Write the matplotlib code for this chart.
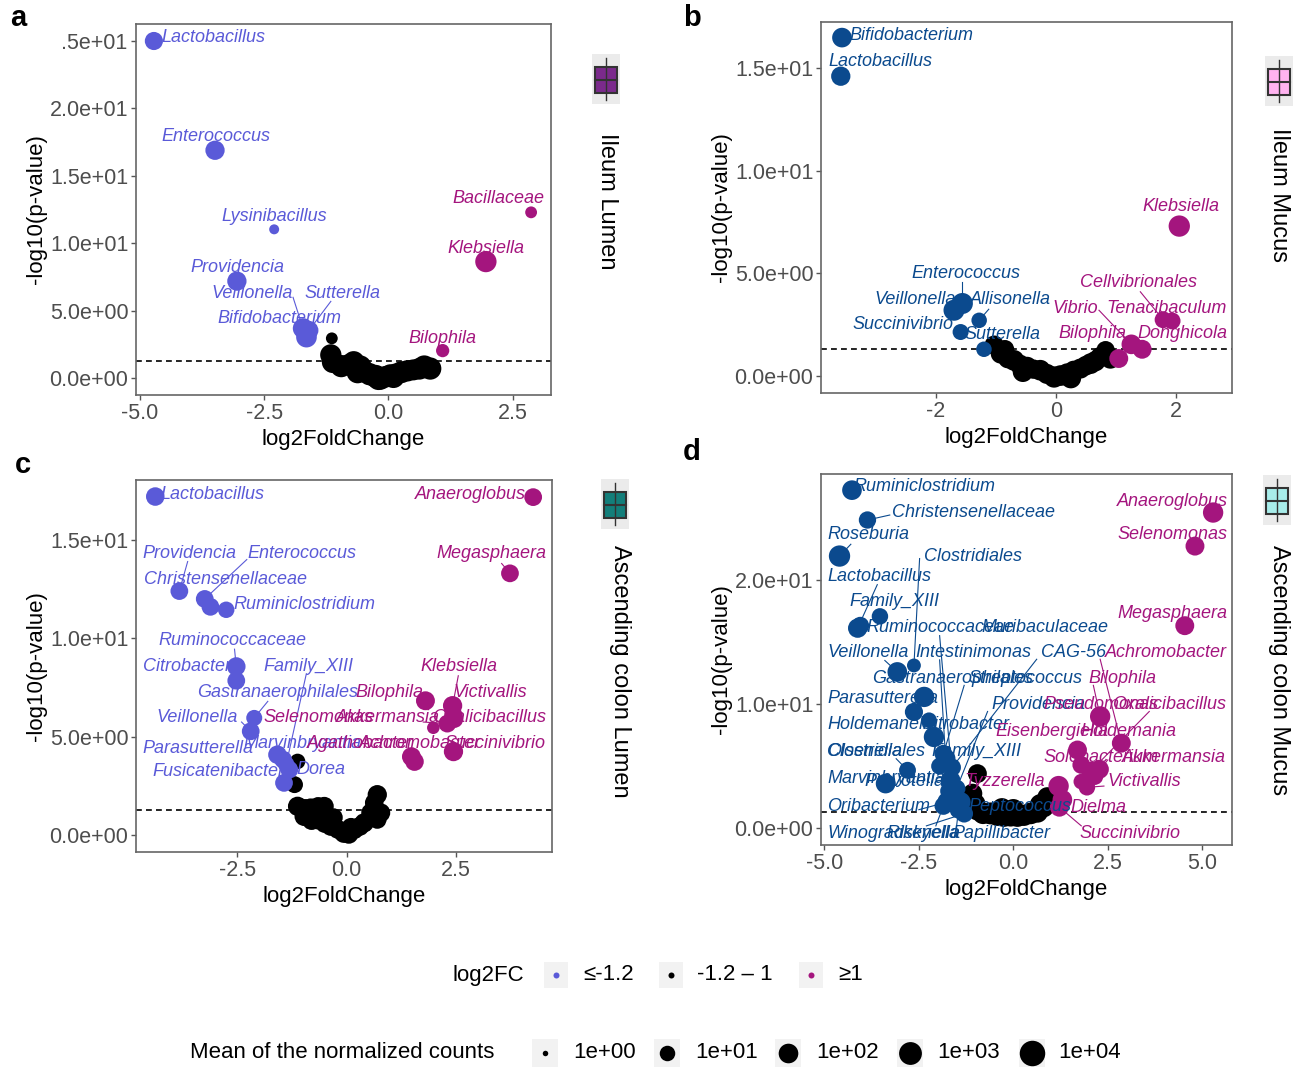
import numpy as np
import matplotlib
matplotlib.use('Agg')
import matplotlib.pyplot as plt
from matplotlib.patches import Rectangle
from matplotlib.ticker import FuncFormatter

W, H = 1305, 1067
plt.rcParams['font.family'] = ['Liberation Sans', 'DejaVu Sans']

BLUE_AC = '#5A5AD8'
BLUE_BD = '#0B4A8E'
MAG = '#A4157E'

# ---------------- data: panel a (Ileum Lumen) ----------------
a_names = ['Lactobacillus', 'Enterococcus', 'Lysinibacillus', 'Providencia', 'Veillonella',
           'Sutterella', 'Bifidobacterium', 'Bacillaceae', 'Klebsiella', 'Bilophila']
a_lfc = [-4.72, -3.49, -2.30, -3.05, -1.72, -1.60, -1.65, 2.87, 1.96, 1.09]
a_logp = [25.0, 16.9, 11.04, 7.2, 3.7, 3.55, 3.05, 12.3, 8.65, 2.05]
a_lmean = [1.6, 1.9, 0.2, 1.9, 2.2, 1.8, 2.3, 0.4, 2.5, 0.6]
a_bg_lfc = [-1.14, -1.16, -1.12, -0.95, -0.80, -0.70, -0.57, -0.49, -0.38, -0.26, -0.16, -0.05,
            0.04, 0.15, 0.26, 0.38, 0.50, 0.62, 0.72, 0.84, -0.62, -0.20, 0.10]
a_bg_logp = [2.96, 1.73, 1.2, 0.9, 1.0, 1.2, 0.85, 0.5, 0.3, 0.15, 0.0, 0.12,
             0.25, 0.3, 0.45, 0.55, 0.62, 0.7, 0.85, 0.72, 0.45, -0.05, 0.1]
a_bg_lmean = [0.4, 2.5, 2.7, 2.8, 2.5, 2.7, 3.0, 2.7, 2.8, 3.0, 3.0, 2.6,
              2.5, 2.6, 2.7, 2.5, 2.4, 2.6, 3.0, 2.8, 2.8, 2.8, 2.8]

# ---------------- data: panel b (Ileum Mucus) ----------------
b_names = ['Bifidobacterium', 'Lactobacillus', 'Klebsiella', 'Enterococcus', 'Veillonella',
           'Allisonella', 'Succinivibrio', 'Sutterella', 'Cellvibrionales', 'Tenacibaculum',
           'Vibrio', 'Bilophila', 'Donghicola']
b_lfc = [-3.57, -3.59, 2.06, -1.56, -1.70, -1.28, -1.59, -1.20, 1.79, 1.94, 1.26, 1.05, 1.44]
b_logp = [16.48, 14.6, 7.3, 3.53, 3.2, 2.71, 2.14, 1.3, 2.74, 2.68, 1.54, 0.85, 1.3]
b_lmean = [2.0, 1.9, 2.5, 2.4, 2.4, 1.0, 1.1, 1.0, 1.3, 1.3, 2.0, 1.8, 1.8]
b_bg_lfc = [-1.03, -0.92, -0.85, -0.80, -0.70, -0.60, -0.55, -0.48, -0.37, -0.26, -0.15, -0.03,
            0.08, 0.19, 0.25, 0.30, 0.41, 0.50, 0.58, 0.66, 0.74, 0.83, 0.91]
b_bg_logp = [1.5, 1.09, 1.3, 0.85, 0.76, 0.55, 0.2, 0.44, 0.33, 0.28, 0.1, -0.05,
             0.02, 0.12, -0.1, 0.25, 0.36, 0.5, 0.6, 0.72, 0.93, 1.25, 0.85]
b_bg_lmean = [1.9, 2.1, 1.7, 2.0, 2.3, 2.1, 2.2, 2.2, 1.9, 2.3, 2.1, 2.5,
              2.3, 2.2, 2.3, 2.2, 2.1, 2.0, 2.3, 2.2, 2.0, 1.7, 2.2]

# ---------------- data: panel c (Ascending colon Lumen) ----------------
c_names = ['Lactobacillus', 'Providencia', 'Enterococcus', 'Christensenellaceae', 'Ruminiclostridium',
           'Ruminococcaceae', 'Citrobacter', 'Gastranaerophilales', 'Veillonella', 'Parasutterella',
           'Marvinbryantia', 'Family_XIII', 'Dorea', 'Fusicatenibacter', 'Anaeroglobus',
           'Megasphaera', 'Bilophila', 'Klebsiella', 'Victivallis', 'Selenomonas',
           'Akkermansia', 'Oxalicibacillus', 'Achromobacter', 'Agathobacter', 'Succinivibrio']
c_lfc = [-4.37, -3.82, -3.24, -3.11, -2.75, -2.52, -2.52, -2.11, -2.19, -1.58, -1.45, -1.38, -1.31,
         -1.43, 4.26, 3.73, 1.80, 2.42, 2.44, 1.98, 2.30, 2.46, 1.48, 1.55, 2.44]
c_logp = [17.2, 12.4, 12.0, 11.6, 11.45, 8.57, 7.85, 5.96, 5.28, 4.09, 3.84, 3.6, 3.33,
          2.66, 17.17, 13.3, 6.83, 6.58, 6.07, 5.46, 5.67, 5.9, 3.99, 3.74, 4.25]
c_lmean = [1.7, 1.5, 1.5, 1.5, 1.2, 1.7, 1.5, 1.1, 1.5, 1.7, 1.5, 1.2, 1.5,
           1.5, 1.5, 1.5, 1.8, 1.9, 1.7, 0.5, 1.5, 1.5, 1.8, 1.7, 1.9]
c_bg_lfc = [-1.12, -1.19, 0.70, -1.12, -0.95, -0.82, -0.65, -0.51, -0.97, -0.80, -0.67, -0.50,
            -0.36, -0.20, -0.06, 0.05, 0.17, 0.30, 0.40, 0.55, 0.63, 0.78, 0.70, 0.10, -0.30]
c_bg_logp = [3.75, 2.57, 2.06, 1.47, 1.35, 1.39, 1.45, 1.47, 0.96, 0.75, 0.80, 0.60,
             0.46, 0.30, 0.12, 0.05, 0.29, 0.45, 0.63, 1.14, 1.65, 1.14, 0.80, 0.40, 0.90]
c_bg_lmean = [1.0, 1.3, 1.9, 1.9, 1.9, 1.8, 1.9, 1.8, 1.9, 1.8, 2.0, 1.8,
              1.9, 1.8, 2.1, 1.8, 1.9, 1.8, 1.9, 1.8, 1.7, 1.8, 1.7, 1.8, 1.7]

# ---------------- data: panel d (Ascending colon Mucus) ----------------
d_names = ['Ruminiclostridium', 'Christensenellaceae', 'Roseburia', 'Lactobacillus', 'Family_XIII',
           'Ruminococcaceae', 'Clostridiales', 'Veillonella', 'Gastranaerophilales', 'Parasutterella',
           'Holdemanella', 'Citrobacter', 'Intestinimonas', 'Clostridiales', 'Marvinbryantia',
           'Prevotella', 'Muribaculaceae', 'Oribacterium', 'Peptococcus', 'Winogradskyella',
           'CAG-56', 'Providencia', 'Streptococcus', 'Olsenella', 'Family_XIII', 'Rikenella',
           'Papillibacter', 'Anaeroglobus', 'Selenomonas', 'Megasphaera', 'Achromobacter',
           'Bilophila', 'Pseudomonas', 'Oxalicibacillus', 'Eisenbergiella', 'Holdemania',
           'Solobacterium', 'Akkermansia', 'Tyzzerella', 'Victivallis', 'Dielma', 'Succinivibrio']
d_lfc = [-4.27, -3.86, -4.60, -4.12, -3.53, -4.05, -2.63, -3.07, -2.36, -2.63,
         -2.23, -2.10, -1.79, -2.80, -3.38, -1.66, -1.57, -1.74, -1.39, -1.30,
         -1.62, -1.50, -1.85, -1.95, -1.70, -1.85, -1.45, 5.29, 4.81, 4.54,
         2.86, 2.30, 1.70, 2.05, 1.80, 2.28, 1.80, 2.15, 1.20, 1.95, 1.30, 1.22]
d_logp = [27.2, 24.8, 21.9, 16.1, 17.05, 16.3, 13.1, 12.58, 10.57, 9.36,
          8.7, 7.35, 5.6, 4.67, 3.6, 3.86, 2.52, 2.12, 2.12, 1.18,
          4.9, 3.2, 6.0, 5.0, 3.0, 1.8, 1.5, 25.4, 22.7, 16.3,
          6.85, 9.0, 6.3, 4.6, 5.1, 4.75, 3.76, 4.2, 3.4, 3.3, 2.3, 1.7]
d_lmean = [2.0, 1.4, 2.5, 1.9, 1.2, 1.5, 0.7, 2.0, 2.2, 1.6,
           1.0, 2.2, 2.0, 1.3, 2.0, 2.0, 2.2, 2.2, 2.0, 1.5,
           1.5, 1.5, 1.5, 1.3, 1.5, 1.5, 1.5, 2.2, 1.8, 1.8,
           1.8, 2.2, 1.8, 1.8, 1.5, 1.8, 1.0, 1.5, 2.2, 1.2, 2.0, 1.8]
d_bg_lfc = [-0.95, -1.08, -1.00, -0.95, -0.80, -0.60, -0.42, -0.25, -0.07, 0.11, 0.28, 0.46,
            0.64, 0.81, 0.90, 0.72, 0.00, -0.30]
d_bg_logp = [4.4, 2.8, 2.0, 1.45, 1.2, 1.2, 1.05, 1.0, 1.0, 1.0, 1.05, 1.2,
             1.3, 1.71, 2.52, 1.9, 1.5, 1.6]
d_bg_lmean = [1.8, 2.0, 2.0, 2.2, 2.5, 2.7, 2.5, 2.7, 2.5, 2.7, 2.5, 2.6,
              2.4, 2.2, 2.0, 2.5, 2.5, 2.3]

# legend values
fc_labels = ['\u2264-1.2', '-1.2 \u2013 1', '\u22651']
size_levels = [0, 1, 2, 3, 4]
size_labels = ['1e+00', '1e+01', '1e+02', '1e+03', '1e+04']
panel_titles = ['Ileum Lumen', 'Ileum Mucus', 'Ascending colon Lumen', 'Ascending colon Mucus']

# ---------------- layout (label placement, data coords) ----------------
a_lab = [(-4.57, 25.25, 'left', None), (-4.57, 17.9, 'left', None), (-3.36, 12.0, 'left', None),
         (-3.99, 8.2, 'left', None), (-3.57, 6.25, 'left', (-1.92, 6.0)),
         (-1.70, 6.3, 'left', (-1.16, 5.7)), (-3.44, 4.4, 'left', None),
         (1.29, 13.3, 'left', None), (1.19, 9.6, 'left', None), (0.40, 2.96, 'left', None)]
b_lab = [(-3.45, 16.59, 'left', None), (-3.79, 15.34, 'left', None), (1.44, 8.26, 'left', None),
         (-2.41, 4.98, 'left', (-1.56, 4.6)), (-3.02, 3.73, 'left', None),
         (-1.44, 3.73, 'left', (-1.12, 3.25)), (-3.39, 2.52, 'left', None),
         (-1.53, 2.01, 'left', None), (0.40, 4.53, 'left', (1.41, 4.1)),
         (0.85, 3.28, 'left', None), (-0.05, 3.28, 'left', (0.72, 3.2)),
         (0.05, 2.06, 'left', None), (1.36, 2.06, 'left', None)]
c_lab = [(-4.25, 17.32, 'left', None), (-4.67, 14.32, 'left', (-3.63, 13.9)),
         (-2.26, 14.32, 'left', (-2.28, 14.0)), (-4.62, 13.0, 'left', None),
         (-2.59, 11.7, 'left', None), (-4.29, 9.88, 'left', (-2.56, 9.45)),
         (-4.64, 8.57, 'left', None), (-3.42, 7.27, 'left', (-1.8, 6.8)),
         (-4.34, 5.99, 'left', (-2.4, 5.75)), (-4.67, 4.43, 'left', None),
         (-2.36, 4.68, 'left', None), (-1.89, 8.57, 'left', (-0.92, 8.2)),
         (-1.15, 3.33, 'left', None), (-4.43, 3.25, 'left', None),
         (1.56, 17.32, 'left', None), (2.06, 14.29, 'left', (3.54, 13.8)),
         (0.19, 7.27, 'left', None), (1.68, 8.57, 'left', (2.55, 8.1)),
         (2.45, 7.27, 'left', None), (-1.89, 5.99, 'left', None),
         (-0.24, 5.99, 'left', (1.75, 5.75)), (4.55, 5.99, 'right', None),
         (0.28, 4.68, 'left', None), (-0.9, 4.68, 'left', None), (4.55, 4.68, 'right', None)]
d_lab = [(-4.24, 27.46, 'left', None), (-3.2, 25.42, 'left', (-3.27, 25.2)),
         (-4.92, 23.62, 'left', (-4.3, 22.85)), (-4.92, 20.27, 'left', (-3.6, 19.6)),
         (-4.33, 18.26, 'left', None), (-3.89, 16.16, 'left', None),
         (-2.36, 21.88, 'left', (-2.48, 21.7)), (-4.92, 14.17, 'left', (-3.4, 13.5)),
         (-3.75, 12.03, 'left', None), (-4.92, 10.47, 'left', None),
         (-4.92, 8.32, 'left', None), (-2.44, 8.32, 'left', None),
         (-2.6, 14.17, 'left', (-1.95, 13.55)), (-4.92, 6.17, 'left', (-3.1, 5.6)),
         (-4.92, 4.03, 'left', None), (-3.95, 3.76, 'left', None),
         (-0.85, 16.16, 'left', (-1.95, 15.5)), (-4.92, 1.74, 'left', (-2.5, 1.5)),
         (-1.18, 1.74, 'left', None), (-4.92, -0.4, 'left', (-2.3, 0.2)),
         (0.73, 14.17, 'left', (0.62, 13.6)), (-0.58, 9.93, 'left', (-0.68, 9.4)),
         (-1.18, 12.03, 'left', (-1.3, 11.5)), (-4.92, 6.17, 'left', None),
         (-2.16, 6.17, 'left', None), (-3.35, -0.4, 'left', (-2.05, 0.2)),
         (-1.6, -0.4, 'left', (-1.5, 0.2)),
         (2.73, 26.3, 'left', None), (2.75, 23.6, 'left', None), (2.75, 17.3, 'left', None),
         (2.43, 14.17, 'left', (2.3, 13.6)), (1.99, 12.03, 'left', (2.12, 11.5)),
         (0.79, 9.93, 'left', None), (5.62, 9.93, 'right', (3.6, 9.4)),
         (-0.47, 7.79, 'left', None), (1.77, 7.79, 'left', None),
         (0.79, 5.7, 'left', None), (5.62, 5.7, 'right', (2.5, 5.5)),
         (-1.29, 3.76, 'left', None), (2.48, 3.76, 'left', (2.4, 3.4)),
         (1.5, 1.66, 'left', None), (1.75, -0.4, 'left', (1.8, 0.2))]


def diam(l):
    return 5.5 + 20 * np.sqrt(np.clip(np.asarray(l, float), 0, 4) / 4)


def s_of(l):
    return (diam(l) * 0.72) ** 2


fig = plt.figure(figsize=(W / 100, H / 100), dpi=100)


def add_ax(l, t, r, b):
    return fig.add_axes([l / W, 1 - b / H, (r - l) / W, (b - t) / H])


def draw_panel(box, names, lfc, logp, lmean, bg_lfc, bg_logp, bg_lmean, lab, blue,
               xlim, ylim, xticks, yticks, xfmt):
    ax = add_ax(*box)
    ax.scatter(bg_lfc, bg_logp, s=s_of(bg_lmean), c='black', linewidths=0, zorder=2)
    cols = [blue if v <= -1.2 else (MAG if v >= 1 else 'black') for v in lfc]
    for i, (tx, ty, ha, lead) in enumerate(lab):
        if lead is not None:
            ax.plot([lead[0], lfc[i]], [lead[1], logp[i]], color=cols[i], lw=0.8, zorder=2.5)
    ax.scatter(lfc, logp, s=s_of(lmean), c=cols, linewidths=0, zorder=3)
    for i, (tx, ty, ha, lead) in enumerate(lab):
        ax.text(tx, ty, names[i], color=cols[i], fontstyle='italic', fontsize=13,
                ha=ha, va='center', zorder=4)
    ax.axhline(-np.log10(0.05), color='black', ls=(0, (3.5, 2.5)), lw=1.2, zorder=1)
    ax.set_xlim(*xlim)
    ax.set_ylim(*ylim)
    ax.set_xticks(xticks)
    ax.set_yticks(yticks)
    ax.xaxis.set_major_formatter(FuncFormatter(lambda v, p: xfmt.format(v)))
    ax.yaxis.set_major_formatter(FuncFormatter(lambda v, p: f'{v:.1e}'))
    ax.tick_params(labelsize=15.5, labelcolor='#4D4D4D', color='#555555', length=3.5, width=1, pad=2)
    for sp in ax.spines.values():
        sp.set_color('#666666')
        sp.set_linewidth(1.2)
    ax.set_xlabel('log2FoldChange', fontsize=16, labelpad=4)
    ax.set_ylabel('-log10(p-value)', fontsize=16, labelpad=2)
    return ax


draw_panel((136, 24, 551, 395), a_names, a_lfc, a_logp, a_lmean, a_bg_lfc, a_bg_logp, a_bg_lmean,
           a_lab, BLUE_AC, (-5.08, 3.27), (-1.24, 26.26), [-5, -2.5, 0, 2.5], [0, 5, 10, 15, 20, 25], '{:.1f}')
draw_panel((821, 22, 1232, 393), b_names, b_lfc, b_logp, b_lmean, b_bg_lfc, b_bg_logp, b_bg_lmean,
           b_lab, BLUE_BD, (-3.92, 2.94), (-0.83, 17.24), [-2, 0, 2], [0, 5, 10, 15], '{:.0f}')
draw_panel((136, 480, 552, 852), c_names, c_lfc, c_logp, c_lmean, c_bg_lfc, c_bg_logp, c_bg_lmean,
           c_lab, BLUE_AC, (-4.81, 4.69), (-0.85, 18.04), [-2.5, 0, 2.5], [0, 5, 10, 15], '{:.1f}')
draw_panel((821, 474, 1232, 845), d_names, d_lfc, d_logp, d_lmean, d_bg_lfc, d_bg_logp, d_bg_lmean,
           d_lab, BLUE_BD, (-5.09, 5.79), (-1.34, 28.5), [-5, -2.5, 0, 2.5, 5], [0, 10, 20], '{:.1f}')

# ---------------- overlay (pixel coordinates) ----------------
axl = fig.add_axes([0, 0, 1, 1])
axl.set_xlim(0, W)
axl.set_ylim(H, 0)
axl.axis('off')
axl.patch.set_visible(False)

# cropped tick label in panel a (the reference shows only ".5e+01")
axl.add_patch(Rectangle((36, 28), 26, 26, facecolor='white', edgecolor='none', zorder=5))

for txt, (x, y) in zip(['a', 'b', 'c', 'd'], [(10, 18), (683, 18), (15, 465), (683, 452)]):
    axl.text(x, y, txt, fontsize=21, fontweight='bold', va='center', ha='left')


def icon(x0, y0, fill):
    axl.add_patch(Rectangle((x0 - 2, y0 - 4), 28, 50, facecolor='#EBEBEB', edgecolor='none'))
    axl.plot([x0 + 12, x0 + 12], [y0, y0 + 42], color='#333333', lw=1)
    axl.add_patch(Rectangle((x0 + 1, y0 + 9), 22, 26, facecolor=fill, edgecolor='#333333', lw=1.5))
    axl.plot([x0 + 1, x0 + 23], [y0 + 22, y0 + 22], color='#333333', lw=1.5)


icon(594, 58, '#7B2A8C')
icon(1267, 60, '#FFB3F0')
icon(603, 483, '#137E7A')
icon(1265, 479, '#A8EDEA')

for title, (x, y) in zip(panel_titles, [(607, 133), (1279, 128), (620, 545), (1279, 545)]):
    axl.text(x, y, title, rotation=-90, fontsize=17, ha='center', va='top')

# log2FC legend
axl.text(453, 975, 'log2FC', fontsize=16, va='center', ha='left')
for cx, col, lbl, tx in zip([556, 671, 811], [BLUE_AC, 'black', MAG], fc_labels, [583, 697, 838]):
    axl.add_patch(Rectangle((cx - 12, 962), 24, 26, facecolor='#F2F2F2', edgecolor='none'))
    axl.scatter([cx], [975], s=(6 * 0.72) ** 2, c=col, linewidths=0)
    axl.text(tx, 975, lbl, fontsize=16, va='center', ha='left')

# size legend
axl.text(190, 1053, 'Mean of the normalized counts', fontsize=16, va='center', ha='left')
for cx, lv, lbl, tx in zip([545, 667, 788, 910, 1032], size_levels, size_labels,
                           [573, 695, 816, 937, 1058]):
    axl.add_patch(Rectangle((cx - 13, 1039), 26, 28, facecolor='#F2F2F2', edgecolor='none'))
    axl.scatter([cx], [1053], s=s_of(lv), c='black', linewidths=0)
    axl.text(tx, 1053, lbl, fontsize=16, va='center', ha='left')

fig.savefig('out.png', dpi=100)
